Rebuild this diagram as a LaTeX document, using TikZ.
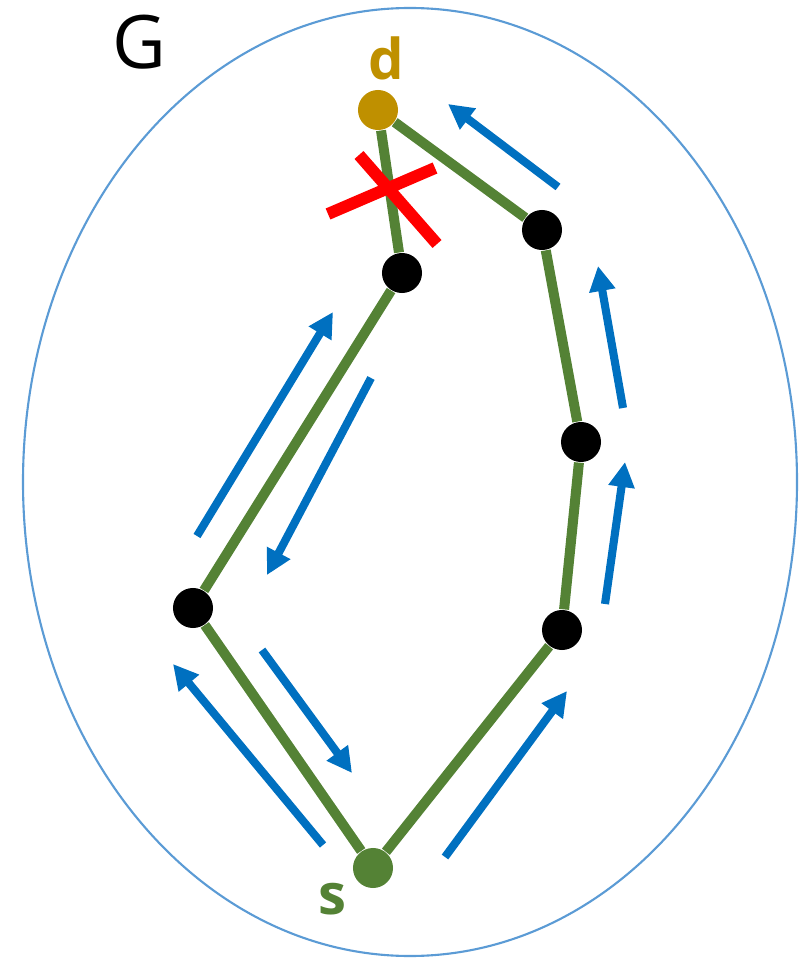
\documentclass[tikz,border=0pt]{standalone}
\usepackage{fontspec}
\setmainfont{Open Sans}
\usetikzlibrary{arrows.meta}
\definecolor{pathgreen}{HTML}{548235}
\definecolor{destgold}{HTML}{BF9000}
\definecolor{flowblue}{HTML}{0070C0}
\definecolor{graphblue}{HTML}{5B9BD5}
\tikzset{
  vertex/.style={circle, fill=black, inner sep=0pt, minimum size=0.4cm},
  edge/.style={pathgreen, line width=2.85pt},
  flow/.style={flowblue, line width=2.3pt, -{Triangle[length=0.25cm, width=0.25cm]}}
}
\begin{document}
\begin{tikzpicture}[x=0.01cm, y=-0.01cm]
  \useasboundingbox (0,0) rectangle (811,958);
  \draw[graphblue, line width=0.6pt] (410,482) ellipse [x radius=387, y radius=474];
  \node[font=\fontsize{21}{24}\selectfont] (glabel) at (139,42) {G};
  % vertices
  \node[vertex, fill=destgold] (d) at (378,110) {};
  \node[vertex, fill=pathgreen] (s) at (373,868) {};
  \node[vertex] (l1) at (193,608) {};
  \node[vertex] (l2) at (402,273) {};
  \node[vertex] (r1) at (562,630) {};
  \node[vertex] (r2) at (581,442) {};
  \node[vertex] (r3) at (542,230) {};
  \node[destgold, font=\fontsize{16}{19}\selectfont\bfseries] (dlabel) at (386,58) {d};
  \node[pathgreen, font=\fontsize{16}{19}\selectfont\bfseries] (slabel) at (332,899) {s};
  % paths
  \draw[edge] (s) -- (l1) -- (l2) -- (d);
  \draw[edge] (s) -- (r1) -- (r2) -- (r3) -- (d);
  % broken link
  \draw[red, line width=3.4pt] (328,214) -- (435,168) (359,155) -- (437,244);
  % flows
  \foreach \xa/\ya/\xb/\yb in {558/187/448/104, 623/408/598/266, 605/604/625/462, 445/857/567/691,
                     323/845/173/664, 262/650/352/773, 197/536/333/312, 371/378/267/575}
    { \draw[flow] (\xa,\ya) -- (\xb,\yb); }
\end{tikzpicture}
\end{document}
